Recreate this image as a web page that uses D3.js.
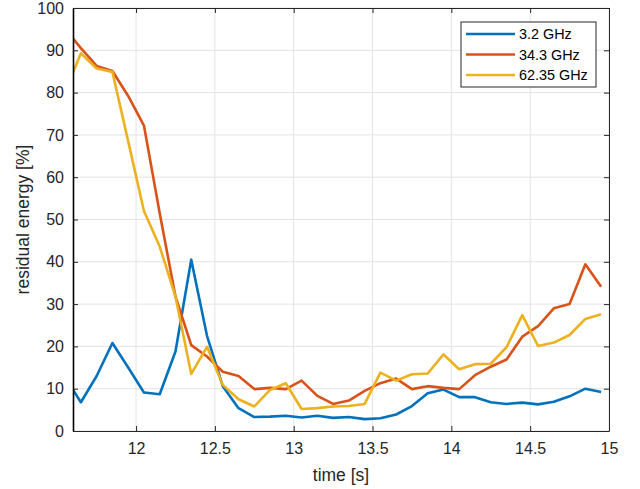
<!DOCTYPE html>
<html lang="en">
<head>
<meta charset="UTF-8" />
<title>Residual energy vs time</title>
<script src="https://d3js.org/d3.v7.min.js"></script>
<style>
  body { margin: 0; background: #fff; font-family: "Liberation Sans", Arial, sans-serif; }
  svg { display: block; }
  .tick text { font-size: 16px; fill: #262626; }
  .grid line { stroke: #e3e3e3; stroke-width: 1px; }
  .series { fill: none; stroke-width: 2.6px; stroke-linejoin: round; }
</style>
</head>
<body>
<div id="chart"></div>
<script>
// sample times (s); first sample lies left of the x-limit and gets clipped
const times = [11.55, 11.65, 11.75, 11.85, 11.95, 12.05, 12.15, 12.25, 12.35, 12.45,
  12.55, 12.65, 12.75, 12.85, 12.95, 13.05, 13.15, 13.25, 13.35, 13.45,
  13.55, 13.65, 13.75, 13.85, 13.95, 14.05, 14.15, 14.25, 14.35, 14.45,
  14.55, 14.65, 14.75, 14.85, 14.95];

const ghz3_2 = [12.6, 6.8, 13.0, 20.8, 15.0, 9.1, 8.7, 18.8, 40.5, 22.5,
  10.6, 5.4, 3.3, 3.4, 3.6, 3.2, 3.6, 3.1, 3.3, 2.8,
  3.0, 3.9, 5.9, 8.9, 9.8, 8.0, 8.0, 6.8, 6.4, 6.7,
  6.3, 6.9, 8.2, 10.0, 9.2];

const ghz34_3 = [95.1, 90.5, 86.3, 85.1, 79.2, 72.2, 51.5, 31.8, 20.3, 17.6,
  14.0, 13.0, 9.9, 10.2, 9.9, 11.9, 8.3, 6.4, 7.2, 9.5,
  11.3, 12.4, 9.9, 10.6, 10.2, 9.9, 13.2, 15.2, 16.9, 22.3,
  24.8, 29.0, 30.0, 39.4, 34.1];

const ghz62_35 = [80.1, 89.3, 85.7, 84.9, 68.5, 52.0, 43.6, 31.8, 13.5, 19.9,
  10.9, 7.5, 5.8, 9.7, 11.3, 5.2, 5.4, 5.8, 5.9, 6.4,
  13.8, 11.9, 13.4, 13.6, 18.1, 14.6, 15.8, 15.9, 19.8, 27.4,
  20.1, 20.9, 22.7, 26.5, 27.6];

const seriesNames = ["3.2 GHz", "34.3 GHz", "62.35 GHz"];
const seriesColors = ["#0072BD", "#D95319", "#EDB120"];
const xTicks = [12, 12.5, 13, 13.5, 14, 14.5, 15];
const yTicks = [0, 10, 20, 30, 40, 50, 60, 70, 80, 90, 100];

const width = 640, height = 489;
const margin = { left: 73, right: 31, top: 8, bottom: 58 };
const innerW = width - margin.left - margin.right;
const innerH = height - margin.top - margin.bottom;

const svg = d3.select("#chart").append("svg")
  .attr("width", width)
  .attr("height", height);

const x = d3.scaleLinear().domain([11.6, 15]).range([0, innerW]);
const y = d3.scaleLinear().domain([0, 100]).range([innerH, 0]);

const g = svg.append("g").attr("transform", `translate(${margin.left},${margin.top})`);

g.append("clipPath").attr("id", "clip")
  .append("rect").attr("width", innerW).attr("height", innerH);

// grid
const grid = g.append("g").attr("class", "grid");
grid.selectAll(".gx").data(xTicks).enter().append("line")
  .attr("x1", d => x(d)).attr("x2", d => x(d))
  .attr("y1", 0).attr("y2", innerH);
grid.selectAll(".gy").data(yTicks).enter().append("line")
  .attr("x1", 0).attr("x2", innerW)
  .attr("y1", d => y(d)).attr("y2", d => y(d));

// lines
const allSeries = [ghz3_2, ghz34_3, ghz62_35];
const line = d3.line()
  .x((d, i) => x(times[i]))
  .y(d => y(d));

g.append("g").attr("clip-path", "url(#clip)")
  .selectAll("path").data(allSeries).enter().append("path")
  .attr("class", "series")
  .attr("stroke", (d, i) => seriesColors[i])
  .attr("d", line);

// axes (MATLAB style: inward ticks, box)
const axisColor = "#262626";
const xAxis = g.append("g").attr("transform", `translate(0,${innerH})`)
  .call(d3.axisBottom(x).tickValues(xTicks).tickFormat(d3.format("")).tickSizeInner(-5).tickSizeOuter(0).tickPadding(12));
const xTop = g.append("g")
  .call(d3.axisTop(x).tickValues(xTicks).tickFormat("").tickSizeInner(-5).tickSizeOuter(0));
const yAxis = g.append("g")
  .call(d3.axisLeft(y).tickValues(yTicks).tickSizeInner(-5).tickSizeOuter(0).tickPadding(9));
const yRight = g.append("g").attr("transform", `translate(${innerW},0)`)
  .call(d3.axisRight(y).tickValues(yTicks).tickFormat("").tickSizeInner(-5).tickSizeOuter(0));

[xAxis, xTop, yAxis, yRight].forEach(a => {
  a.selectAll("path, line").attr("stroke", axisColor).attr("stroke-width", 1);
  a.selectAll("text").style("font-family", "'Liberation Sans', Arial, sans-serif");
});
yAxis.select(".domain").attr("stroke", "#000").attr("stroke-width", 1.6);

// axis labels
svg.append("text")
  .attr("x", margin.left + innerW / 2)
  .attr("y", 481)
  .attr("text-anchor", "middle")
  .attr("font-size", 17.5)
  .attr("fill", axisColor)
  .text("time [s]");

svg.append("text")
  .attr("transform", `translate(29,${margin.top + innerH / 2}) rotate(-90)`)
  .attr("text-anchor", "middle")
  .attr("font-size", 17.5)
  .attr("fill", axisColor)
  .text("residual energy [%]");

// legend
const legend = svg.append("g").attr("transform", "translate(461,22)");
legend.append("rect")
  .attr("width", 135).attr("height", 65)
  .attr("fill", "#fff").attr("stroke", axisColor).attr("stroke-width", 1);
seriesNames.forEach((name, i) => {
  const ly = 12 + i * 20.5;
  legend.append("line")
    .attr("x1", 5).attr("x2", 54)
    .attr("y1", ly).attr("y2", ly)
    .attr("stroke", seriesColors[i]).attr("stroke-width", 2.6);
  legend.append("text")
    .attr("x", 58).attr("y", ly)
    .attr("dy", "0.36em")
    .attr("font-size", 14.4)
    .attr("fill", "#000")
    .text(name);
});
</script>
</body>
</html>
